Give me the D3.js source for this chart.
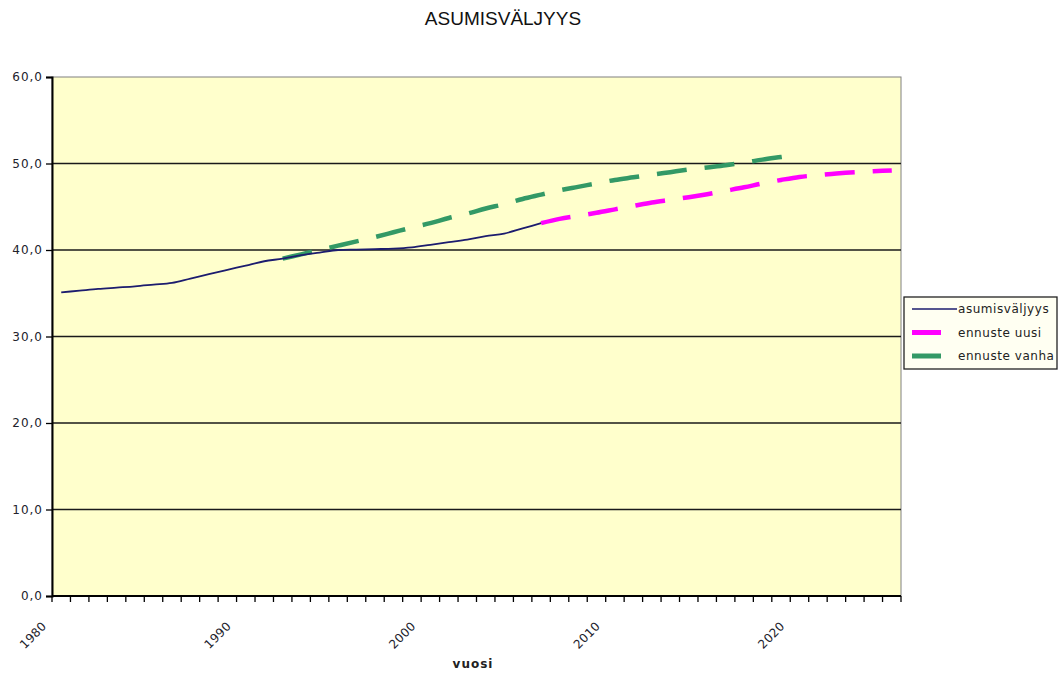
<!DOCTYPE html>
<html><head><meta charset="utf-8">
<script src="https://cdn.jsdelivr.net/npm/d3@7"></script>
<style>
html,body{margin:0;padding:0;background:#fff;}
svg{display:block;}
</style></head>
<body>
<svg id="chart" width="1059" height="673"></svg>
<script>
// ---- data ----
const title = "ASUMISVÄLJYYS";
const xTitle = "vuosi";
const years = [1980,1981,1982,1983,1984,1985,1986,1987,1988,1989,
               1990,1991,1992,1993,1994,1995,1996,1997,1998,1999,
               2000,2001,2002,2003,2004,2005,2006,2007,2008,2009,
               2010,2011,2012,2013,2014,2015,2016,2017,2018,2019,
               2020,2021,2022,2023,2024,2025];
const xTickLabels = [1980,1990,2000,2010,2020];
const yTicks = [0,10,20,30,40,50,60];
const seriesNames = ["asumisväljyys","ennuste uusi","ennuste vanha"];
// asumisväljyys 1980-2006
const asumisvaljyys = [35.1,35.3,35.5,35.65,35.8,36.0,36.2,36.7,37.2,37.7,
                       38.2,38.7,39.0,39.4,39.7,40.0,40.05,40.1,40.15,40.3,
                       40.6,40.9,41.2,41.6,41.9,42.5,43.1,
                       null,null,null,null,null,null,null,null,null,null,null,null,null,null,null,null,null,null,null];
// ennuste uusi 2006-2025
const ennusteUusi = [null,null,null,null,null,null,null,null,null,null,
                     null,null,null,null,null,null,null,null,null,null,
                     null,null,null,null,null,null,
                     43.1,43.6,43.95,44.3,44.7,45.1,45.5,45.8,46.1,46.45,
                     46.85,47.25,47.7,48.1,48.45,48.65,48.85,49.0,49.1,49.2];
// ennuste vanha 1992-2020
const ennusteVanha = [null,null,null,null,null,null,null,null,null,null,null,null,
                      39.0,39.5,40.0,40.5,41.0,41.5,42.05,42.6,43.1,43.7,
                      44.2,44.8,45.3,45.9,46.4,46.9,47.3,47.7,48.1,48.4,
                      48.7,49.0,49.3,49.55,49.8,50.1,50.45,50.75,51.05,
                      null,null,null,null,null];

// ---- layout ----
const svg = d3.select("#chart");
const L = 52, R = 901, T = 77, B = 596;
const x = d3.scaleBand().domain(years).range([L, R]).padding(0);
const y = d3.scaleLinear().domain([0, 60]).range([B, T]);
const cx = yr => x(yr) + x.bandwidth() / 2;

const font = "'DejaVu Sans', Verdana, sans-serif";

// plot background
svg.append("rect").attr("x", L).attr("y", T).attr("width", R - L).attr("height", B - T)
  .attr("fill", "#FFFFCC").attr("stroke", "#808080").attr("stroke-width", 1);

// gridlines
svg.append("g").selectAll("line").data(yTicks.filter(v => v > 0 && v < 60)).join("line")
  .attr("x1", L).attr("x2", R).attr("y1", d => y(d)).attr("y2", d => y(d))
  .attr("stroke", "#1a1a1a").attr("stroke-width", 1.3);

// y axis
const yAxis = d3.axisLeft(y).tickValues(yTicks).tickSize(6).tickPadding(3)
  .tickFormat(d => d3.format(".1f")(d).replace(".", ","));
const gy = svg.append("g").attr("transform", `translate(${L},0)`).call(yAxis);
gy.select(".domain").attr("stroke", "#000").attr("stroke-width", 2);
gy.selectAll(".tick line").attr("stroke", "#000").attr("stroke-width", 1.3);
gy.selectAll(".tick text").attr("font-family", font).attr("font-size", 12)
  .attr("letter-spacing", 1).attr("fill", "#22222c");

// x axis (category boundaries as ticks)
const boundaries = years.map(yr => x(yr)).concat([R]);
svg.append("line").attr("x1", L).attr("x2", R).attr("y1", B).attr("y2", B)
  .attr("stroke", "#000").attr("stroke-width", 2);
svg.append("g").selectAll("line").data(boundaries).join("line")
  .attr("x1", d => d).attr("x2", d => d).attr("y1", B).attr("y2", B + 6)
  .attr("stroke", "#000").attr("stroke-width", 1.3);
svg.append("g").selectAll("text").data(xTickLabels).join("text")
  .attr("transform", d => `translate(${cx(d) - 14},${627}) rotate(-45)`)
  .attr("text-anchor", "end")
  .attr("font-family", font).attr("font-size", 12).attr("letter-spacing", 0.3)
  .attr("fill", "#22222c")
  .text(d => d);

// axis title
svg.append("text").attr("x", 473).attr("y", 668).attr("text-anchor", "middle")
  .attr("font-family", font).attr("font-size", 12).attr("font-weight", "bold")
  .attr("letter-spacing", 1).attr("fill", "#222").text(xTitle);

// chart title
svg.append("text").attr("x", 503).attr("y", 25).attr("text-anchor", "middle")
  .attr("font-family", "'Liberation Sans', Arial, sans-serif").attr("font-size", 19)
  .attr("fill", "#111").text(title);

// lines
const line = d3.line()
  .defined(d => d.v != null)
  .x(d => cx(d.yr)).y(d => y(d.v))
  .curve(d3.curveMonotoneX);
const toPts = arr => years.map((yr, i) => ({yr, v: arr[i]}));

svg.append("path").datum(toPts(ennusteVanha)).attr("d", line)
  .attr("fill", "none").attr("stroke", "#339966").attr("stroke-width", 4.5)
  .attr("stroke-dasharray", "30,18");
svg.append("path").datum(toPts(ennusteUusi)).attr("d", line)
  .attr("fill", "none").attr("stroke", "#FF00FF").attr("stroke-width", 4.5)
  .attr("stroke-dasharray", "30,18");
svg.append("path").datum(toPts(asumisvaljyys)).attr("d", line)
  .attr("fill", "none").attr("stroke", "#1c1c6e").attr("stroke-width", 1.8);

// legend
const lg = svg.append("g");
lg.append("rect").attr("x", 904).attr("y", 297).attr("width", 153).attr("height", 72)
  .attr("fill", "#FFFFF2").attr("stroke", "#222").attr("stroke-width", 1.3);
const legendItems = [
  {name: seriesNames[0], color: "#1c1c6e", w: 1.6, x2: 957},
  {name: seriesNames[1], color: "#FF00FF", w: 5, x2: 941},
  {name: seriesNames[2], color: "#339966", w: 5, x2: 941}
];
const rowY = [309, 332.5, 356];
legendItems.forEach((it, i) => {
  lg.append("line").attr("x1", 912).attr("x2", it.x2).attr("y1", rowY[i]).attr("y2", rowY[i])
    .attr("stroke", it.color).attr("stroke-width", it.w);
  lg.append("text").attr("x", 958).attr("y", rowY[i] + 4)
    .attr("font-family", font).attr("font-size", 12).attr("letter-spacing", 0.55)
    .attr("fill", "#222").text(it.name);
});
</script>
</body></html>
